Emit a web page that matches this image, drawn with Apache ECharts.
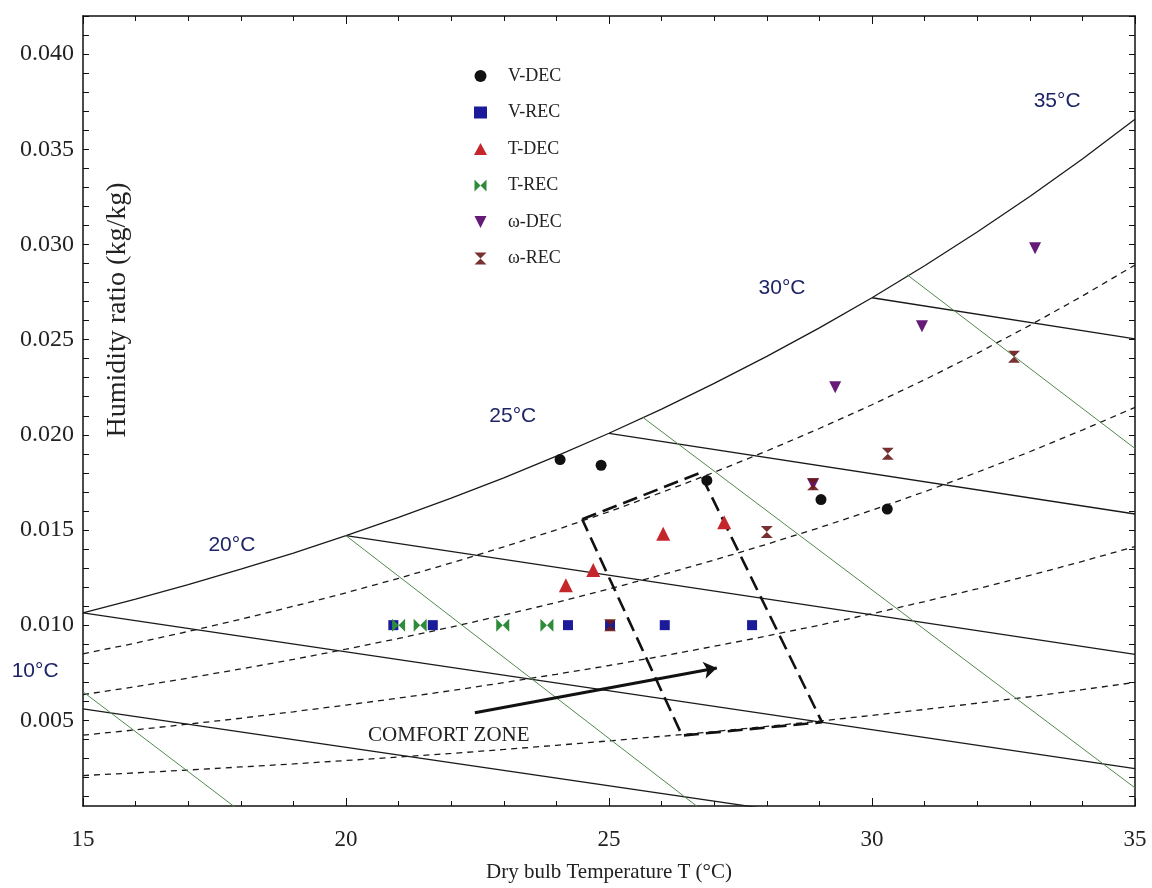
<!DOCTYPE html>
<html>
<head>
<meta charset="utf-8">
<script src="https://cdn.jsdelivr.net/npm/echarts@6/dist/echarts.min.js"></script>
<style>
  html, body { margin: 0; padding: 0; background: #fff; }
  #chart { width: 1152px; height: 888px; }
</style>
</head>
<body>
<div id="chart"></div>
<script>
// dry bulb grid for the curves
const temps = [15, 16, 17, 18, 19, 20, 21, 22, 23, 24, 25, 26, 27, 28, 29, 30, 31, 32, 33, 34, 35]

// saturation curve and relative humidity curves (kg/kg)
const sat100 = [0.01065, 0.01137, 0.01213, 0.01294, 0.01379, 0.01470, 0.01566, 0.01667, 0.01774, 0.01888, 0.02008,
  0.02135, 0.02270, 0.02412, 0.02562, 0.02720, 0.02888, 0.03065, 0.03252, 0.03449, 0.03658]
const rh80 = [0.00849, 0.00906, 0.00967, 0.01031, 0.01099, 0.01170, 0.01246, 0.01327, 0.01411, 0.01501, 0.01596,
  0.01697, 0.01803, 0.01915, 0.02033, 0.02158, 0.02289, 0.02428, 0.02575, 0.02729, 0.02892]
const rh60 = [0.00635, 0.00677, 0.00722, 0.00770, 0.00820, 0.00874, 0.00930, 0.00990, 0.01053, 0.01119, 0.01190,
  0.01264, 0.01342, 0.01425, 0.01512, 0.01604, 0.01701, 0.01803, 0.01911, 0.02025, 0.02144]
const rh40 = [0.00422, 0.00450, 0.00480, 0.00511, 0.00545, 0.00580, 0.00617, 0.00656, 0.00698, 0.00742, 0.00788,
  0.00837, 0.00889, 0.00943, 0.01000, 0.01060, 0.01124, 0.01191, 0.01261, 0.01335, 0.01413]
const rh20 = [0.00210, 0.00224, 0.00239, 0.00255, 0.00271, 0.00289, 0.00307, 0.00326, 0.00347, 0.00369, 0.00392,
  0.00416, 0.00441, 0.00468, 0.00496, 0.00526, 0.00557, 0.00590, 0.00624, 0.00661, 0.00699]

// wet bulb lines (black) and specific volume lines (green), end points
const wetBulb10 = [[15, 0.0056], [28, 0.00035]]
const wetBulb15 = [[15, 0.01065], [35, 0.00246]]
const wetBulb20 = [[20, 0.0147], [35, 0.00846]]
const wetBulb25 = [[25, 0.02008], [35, 0.01584]]
const wetBulb30 = [[30, 0.0272], [35, 0.02504]]
const vol825 = [[15, 0.0065], [18.1, 0.0]]
const vol850 = [[20, 0.0147], [26.9, 0.0]]
const vol875 = [[25.65, 0.0209], [35, 0.00145]]
const vol900 = [[30.67, 0.0284], [35, 0.01928]]

// measured points
const vDec = [[24.07, 0.0187], [24.85, 0.0184], [26.86, 0.0176], [29.03, 0.0166], [30.29, 0.0161]]
const vRec = [[20.9, 0.010], [21.65, 0.010], [24.22, 0.010], [25.02, 0.010], [26.06, 0.010], [27.72, 0.010]]
const tDec = [[24.18, 0.0121], [24.70, 0.0129], [26.03, 0.0148], [27.19, 0.0154]]
const tRec = [[21.0, 0.010], [21.41, 0.010], [22.98, 0.010], [23.82, 0.010]]
const wDec = [[28.88, 0.0174], [29.30, 0.0225], [30.95, 0.0257], [33.10, 0.0298]]
const wRec = [[25.02, 0.010], [28.0, 0.0149], [28.88, 0.0174], [30.30, 0.0190], [32.70, 0.0241]]

// comfort zone outline and arrow
const comfortZone = [[24.49, 0.01556], [26.73, 0.0180], [29.05, 0.0049], [26.39, 0.0042], [24.49, 0.01556]]
const comfortArrow = [[22.45, 0.0054], [27.05, 0.00775]]

// annotation texts
const tempLabels = [
  { name: '10°C', value: [14.09, 0.0076] },
  { name: '20°C', value: [17.83, 0.0142] },
  { name: '25°C', value: [23.17, 0.0210] },
  { name: '30°C', value: [28.29, 0.0277] },
  { name: '35°C', value: [33.52, 0.0375] }
]
const zoneLabel = [{ name: 'COMFORT ZONE', value: [20.42, 0.0042] }]

const yLabelValues = [0.005, 0.010, 0.015, 0.020, 0.025, 0.030, 0.035, 0.040]
const yTickValues = []
for (let i = 1; i <= 42; i++) yTickValues.push(i / 1000)

const serif = 'Liberation Serif'
const pair = (arr) => temps.map((t, i) => [t, arr[i]])

const solid = (data) => ({ type: 'line', data, showSymbol: false, silent: true, lineStyle: { color: '#1a1a1a', width: 1.3 }, z: 2 })
const dashed = (data) => ({ type: 'line', data, showSymbol: false, silent: true, lineStyle: { color: '#1a1a1a', width: 1.3, type: [6, 5] }, z: 2 })
const green = (data) => ({ type: 'line', data, showSymbol: false, silent: true, lineStyle: { color: '#4f8a4f', width: 1 }, z: 2 })

const xBase = {
  type: 'value', min: 15, max: 35, interval: 5,
  axisLine: { onZero: false, lineStyle: { color: '#111', width: 1.5 } },
  axisTick: { inside: true, length: 8, lineStyle: { color: '#111' } },
  minorTick: { show: true, splitNumber: 5, length: 5, lineStyle: { color: '#111' } },
  splitLine: { show: false }
}
const yBase = {
  type: 'value', min: 0.0005, max: 0.042,
  axisLine: { onZero: false, lineStyle: { color: '#111', width: 1.5 } },
  axisTick: { inside: true, length: 6, customValues: yTickValues, lineStyle: { color: '#111' } },
  splitLine: { show: false }
}

const chart = echarts.init(document.getElementById('chart'))
chart.setOption({
  backgroundColor: '#fff',
  animation: false,
  grid: { left: 83, right: 17, top: 16, bottom: 76 },
  legend: {
    data: ['V-DEC', 'V-REC', 'T-DEC', 'T-REC', 'ω-DEC', 'ω-REC'],
    orient: 'vertical', left: 469, top: 62,
    itemWidth: 13, itemHeight: 12, itemGap: 18.5,
    textStyle: { fontFamily: serif, fontSize: 18, color: '#222', padding: [0, 0, 0, 16] }
  },
  xAxis: [
    Object.assign({}, xBase, {
      position: 'bottom',
      name: 'Dry bulb Temperature T (°C)', nameLocation: 'middle', nameGap: 56,
      nameTextStyle: { fontFamily: serif, fontSize: 21, color: '#222' },
      axisLabel: { fontFamily: serif, fontSize: 23, color: '#222', margin: 22 }
    }),
    Object.assign({}, xBase, { position: 'top', axisLabel: { show: false } })
  ],
  yAxis: [
    Object.assign({}, yBase, {
      position: 'left',
      axisLabel: {
        customValues: yLabelValues, fontFamily: serif, fontSize: 24, color: '#222', margin: 9,
        formatter: (v) => v.toFixed(3)
      }
    }),
    Object.assign({}, yBase, { position: 'right', axisLabel: { show: false } })
  ],
  graphic: [{
    type: 'text', x: 118, y: 310, rotation: Math.PI / 2,
    style: {
      text: 'Humidity ratio (kg/kg)', fontFamily: serif, fontSize: 28, fill: '#222',
      textAlign: 'center', textVerticalAlign: 'middle'
    }
  }],
  series: [
    solid(pair(sat100)),
    dashed(pair(rh80)),
    dashed(pair(rh60)),
    dashed(pair(rh40)),
    dashed(pair(rh20)),
    solid(wetBulb10), solid(wetBulb15), solid(wetBulb20), solid(wetBulb25), solid(wetBulb30),
    green(vol825), green(vol850), green(vol875), green(vol900),
    {
      type: 'line', data: comfortZone, showSymbol: false, silent: true, z: 3,
      lineStyle: { color: '#111', width: 2.6, type: [15, 7] }
    },
    {
      type: 'lines', coordinateSystem: 'cartesian2d', silent: true, z: 3,
      data: [{ coords: comfortArrow }],
      symbol: ['none', 'arrow'], symbolSize: 13,
      lineStyle: { color: '#111', width: 3, opacity: 1 }
    },
    {
      type: 'scatter', data: tempLabels, symbolSize: 0, clip: false, silent: true,
      itemStyle: { opacity: 1 },
      label: { show: true, position: 'inside', formatter: '{b}', fontFamily: 'Liberation Sans', fontSize: 21, color: '#1e2466' }
    },
    {
      type: 'scatter', data: zoneLabel, symbolSize: 0, clip: false, silent: true,
      itemStyle: { opacity: 1 },
      label: { show: true, position: 'right', distance: 0, formatter: '{b}', fontFamily: serif, fontSize: 21, color: '#222', backgroundColor: '#fff' }
    },
    { name: 'V-DEC', type: 'scatter', data: vDec, symbol: 'circle', symbolSize: 11, itemStyle: { color: '#111', opacity: 1 }, z: 5 },
    { name: 'V-REC', type: 'scatter', data: vRec, symbol: 'rect', symbolSize: 10, itemStyle: { color: '#1a1a9a', opacity: 1 }, z: 5 },
    { name: 'T-DEC', type: 'scatter', data: tDec, symbol: 'triangle', symbolSize: 14, itemStyle: { color: '#c4262b', opacity: 1 }, z: 5 },
    {
      name: 'T-REC', type: 'scatter', data: tRec, z: 6,
      symbol: 'path://M0,0 L5,5 L0,10 Z M10,0 L5,5 L10,10 Z', symbolSize: [13, 13],
      itemStyle: { color: '#2e8b3a', opacity: 1 }
    },
    {
      name: 'ω-DEC', type: 'scatter', data: wDec, z: 5,
      symbol: 'path://M0,0 L10,0 L5,10 Z', symbolSize: [12, 12],
      itemStyle: { color: '#651a78', opacity: 1 }
    },
    {
      name: 'ω-REC', type: 'scatter', data: wRec, z: 6,
      symbol: 'path://M0,0 L10,0 L5,5 Z M0,10 L10,10 L5,5 Z', symbolSize: [12, 12],
      itemStyle: { color: '#6a1a1a', opacity: 0.9 }
    }
  ]
})
</script>
</body>
</html>
